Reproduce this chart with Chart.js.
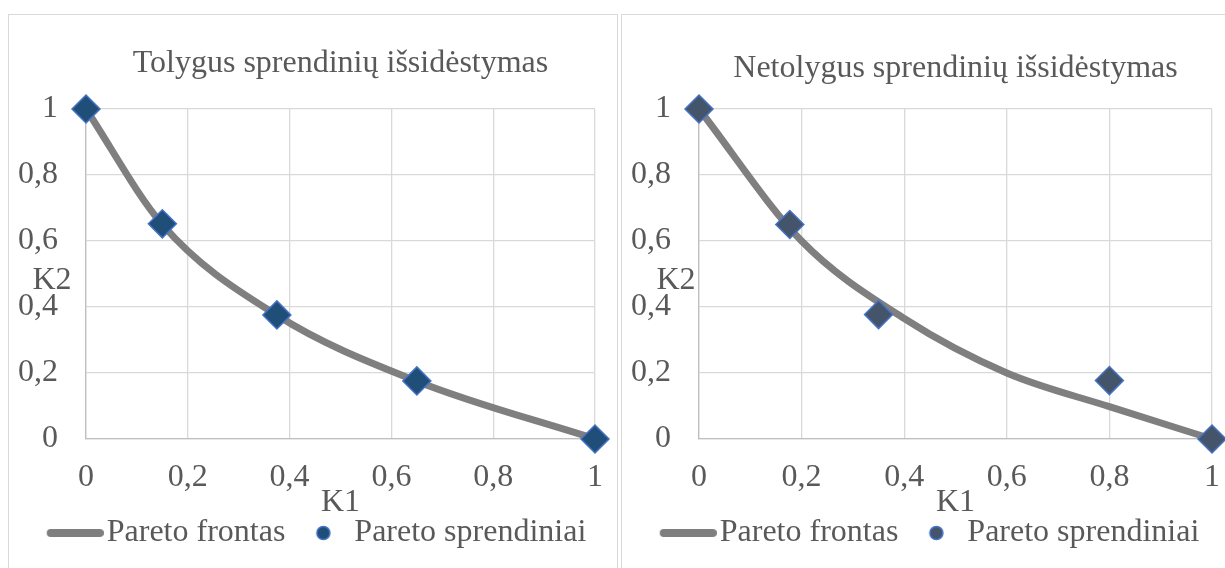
<!DOCTYPE html>
<html>
<head>
<meta charset="utf-8">
<script src="https://cdn.jsdelivr.net/npm/chart.js@4.4.1/dist/chart.umd.min.js"></script>
<style>
  html, body { margin: 0; padding: 0; background: #fff; overflow: hidden; width: 1225px; height: 568px; }
  .box { position: absolute; top: 14px; height: 600px; border: 1px solid #d9d9d9; }
  #box1 { left: 8px; width: 608px; }
  #box2 { left: 621px; width: 612px; }
  canvas { display: block; }
</style>
</head>
<body>
<div class="box" id="box1"><canvas id="evenChart" width="608" height="544"></canvas></div>
<div class="box" id="box2"><canvas id="unevenChart" width="612" height="544"></canvas></div>
<script>
const xTickLabels = ["0", "0,2", "0,4", "0,6", "0,8", "1"];
const yTickLabels = ["0", "0,2", "0,4", "0,6", "0,8", "1"];
const seriesNames = ["Pareto frontas", "Pareto sprendiniai"];
const chartTitles = ["Tolygus sprendinių išsidėstymas", "Netolygus sprendinių išsidėstymas"];

// left chart: even spread
const frontK1Even = [0, 0.15, 0.375, 0.65, 1];
const frontK2Even = [1, 0.65, 0.375, 0.175, 0];
const solK1Even = [0, 0.15, 0.375, 0.65, 1];
const solK2Even = [1, 0.652, 0.376, 0.176, 0];

// right chart: uneven spread
const frontK1Uneven = [0, 0.2, 0.4, 0.6, 0.8, 1];
const frontK2Uneven = [1, 0.6, 0.365, 0.2, 0.098, 0];
const solK1Uneven = [0, 0.177, 0.35, 0.8, 1];
const solK2Uneven = [1, 0.65, 0.377, 0.177, 0];

const textColor = "#595959";
const serif = '"Liberation Serif", "Times New Roman", serif';

Chart.defaults.font.family = serif;
Chart.defaults.font.size = 32;
Chart.defaults.color = textColor;

function toPoints(xs, ys) {
    return xs.map((x, i) => ({ x: x, y: ys[i] }));
}

// legend symbols: a thick rounded line and a small dot
function legendLine(color) {
    const c = document.createElement("canvas");
    c.width = 67;
    c.height = 10;
    const g = c.getContext("2d");
    g.strokeStyle = color;
    g.lineWidth = 8;
    g.lineCap = "round";
    g.beginPath();
    g.moveTo(14, 5);
    g.lineTo(63, 5);
    g.stroke();
    return c;
}

function legendDot(fill, border) {
    const c = document.createElement("canvas");
    c.width = 28;
    c.height = 16;
    const g = c.getContext("2d");
    g.fillStyle = fill;
    g.strokeStyle = border;
    g.lineWidth = 1.5;
    g.beginPath();
    g.arc(19.5, 8, 6.5, 0, Math.PI * 2);
    g.fill();
    g.stroke();
    return c;
}

// chart title and the horizontal K2 label, placed from the chart area
const overlayText = {
    id: "overlayText",
    afterLayout(chart, args, opts) {
        chart.legend.left += opts.legendShift;
        chart.legend.right += opts.legendShift;
    },
    afterDraw(chart, args, opts) {
        const { ctx, chartArea: a } = chart;
        ctx.save();
        ctx.fillStyle = textColor;
        ctx.font = "32px " + serif;
        ctx.textAlign = "center";
        ctx.textBaseline = "middle";
        ctx.fillText(opts.title, (a.left + a.right) / 2, a.top - opts.titleGap);
        ctx.fillText("K2", a.left - opts.k2Gap, (a.top + a.bottom) / 2 + 7);
        ctx.restore();
    }
};

function makeChart(id, title, frontX, frontY, solX, solY, markerFill, titleGap, k2Gap, legendShift) {
    const lineIcon = legendLine("#7f7f7f");
    const dotIcon = legendDot(markerFill, "#4472C4");
    return new Chart(document.getElementById(id).getContext("2d"), {
        type: "scatter",
        data: {
            datasets: [
                {
                    label: seriesNames[1],
                    data: toPoints(solX, solY),
                    pointStyle: "rectRot",
                    pointRadius: 14,
                    pointHoverRadius: 14,
                    backgroundColor: markerFill,
                    borderColor: "#4472C4",
                    borderWidth: 1.5,
                    clip: false
                },
                {
                    type: "line",
                    label: seriesNames[0],
                    data: toPoints(frontX, frontY),
                    borderColor: "#7f7f7f",
                    backgroundColor: "#7f7f7f",
                    borderWidth: 7,
                    pointRadius: 0,
                    cubicInterpolationMode: "monotone",
                    fill: false,
                    clip: false
                }
            ]
        },
        options: {
            responsive: false,
            animation: false,
            events: [],
            layout: { padding: { top: 94, left: 5, right: 22, bottom: 0 } },
            scales: {
                x: {
                    type: "linear",
                    min: 0,
                    max: 1,
                    grid: { color: "#d9d9d9", lineWidth: 1.3, drawTicks: false },
                    border: { color: "#bfbfbf", width: 1.3 },
                    ticks: {
                        stepSize: 0.2,
                        padding: 19,
                        color: textColor,
                        maxRotation: 0,
                        callback: (v, i) => xTickLabels[i]
                    },
                    title: {
                        display: true,
                        text: "K1",
                        color: textColor,
                        font: { size: 32 },
                        padding: { top: -31.6, bottom: -17.2 }
                    },
                    afterFit: (scale) => { scale.paddingRight = 8; }
                },
                y: {
                    type: "linear",
                    min: 0,
                    max: 1,
                    grid: { color: "#d9d9d9", lineWidth: 1.3, drawTicks: false },
                    border: { color: "#bfbfbf", width: 1.3 },
                    ticks: {
                        stepSize: 0.2,
                        padding: 28,
                        color: textColor,
                        callback: (v, i) => yTickLabels[i]
                    },
                    afterFit: (scale) => { scale.width = 72; }
                }
            },
            plugins: {
                title: { display: false },
                tooltip: { enabled: false },
                legend: {
                    position: "bottom",
                    labels: {
                        usePointStyle: true,
                        pointStyleWidth: 41,
                        boxHeight: 16,
                        padding: 12,
                        color: textColor,
                        font: { size: 32 },
                        generateLabels: (chart) => {
                            const items = Chart.defaults.plugins.legend.labels.generateLabels(chart);
                            items.forEach((item) => {
                                item.pointStyle = item.datasetIndex === 1 ? lineIcon : dotIcon;
                            });
                            return items.sort((a, b) => b.datasetIndex - a.datasetIndex);
                        }
                    }
                },
                overlayText: { title: title, titleGap: titleGap, k2Gap: k2Gap, legendShift: legendShift }
            }
        },
        plugins: [overlayText]
    });
}

makeChart("evenChart", chartTitles[0], frontK1Even, frontK2Even, solK1Even, solK2Even, "#1F4E79", 45, 34, 13.5);
makeChart("unevenChart", chartTitles[1], frontK1Uneven, frontK2Uneven, solK1Uneven, solK2Uneven, "#44546A", 40, 23, 11.5);
</script>
</body>
</html>
